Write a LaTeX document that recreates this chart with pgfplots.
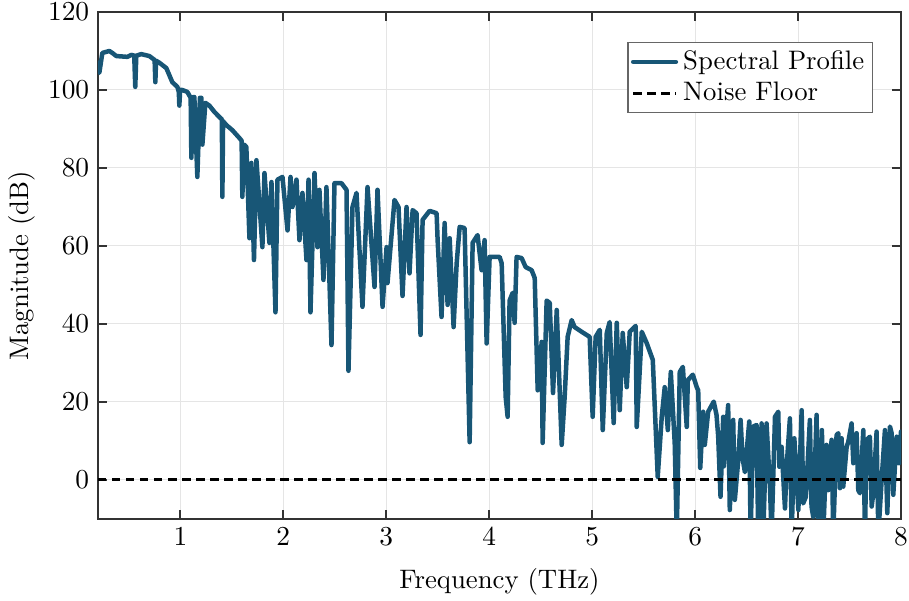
\documentclass[border=0pt]{standalone}
\usepackage{pgfplots}
\pgfplotsset{compat=1.18}
\definecolor{specblue}{RGB}{24,86,118}
\newcommand{\fs}{\fontsize{10.7}{13}\selectfont}
\begin{document}
\begin{tikzpicture}
\begin{axis}[
  scale only axis, width=321.2pt, height=202.8pt,
  xmin=0.2, xmax=8, ymin=-10, ymax=120,
  xtick={1,2,3,4,5,6,7,8}, ytick={0,20,40,60,80,100,120},
  grid=major, major grid style={black!10, line width=0.4pt},
  axis line style={black!80, line width=0.8pt},
  tick style={black!80, line width=0.8pt},
  tick align=inside, major tick length=3.5pt,
  xlabel={Frequency (THz)}, ylabel={Magnitude (dB)},
  xlabel style={yshift=-2.5pt}, ylabel style={yshift=-1.6pt},
  label style={font=\fs}, tick label style={font=\fs},
  legend style={at={(0.965,0.941)}, anchor=north east, draw=black!60, line width=0.5pt, font=\fs, inner sep=1.2pt, row sep=-0.5pt},
  legend cell align=left,
  legend image code/.code={\draw[#1] (0cm,0cm) -- (0.6cm,0cm);},
]
\addplot[specblue, line width=1.8pt, line join=round, line cap=round] coordinates {
(0.204,107) (0.213,104.4) (0.242,109.5) (0.310,110) (0.339,109.5) (0.378,108.7) (0.485,108.5) (0.524,109) (0.552,108.8) (0.562,100.8) (0.572,108.8) (0.621,109.2) (0.699,108.7) (0.750,107.7) (0.757,102) (0.764,107.5) (0.796,107) (0.864,105.6) (0.922,102) (0.971,100.8) (0.985,99.5) (0.990,96) (0.998,100) (1.019,100) (1.068,99.5) (1.100,98) (1.107,82.6) (1.125,98.2) (1.136,98.2) (1.165,77.7) (1.190,98) (1.204,98) (1.214,86) (1.243,96.7) (1.282,96) (1.330,94.4) (1.389,92.8) (1.403,92.5) (1.408,72.6) (1.415,92) (1.447,91) (1.505,89.7) (1.573,87.7) (1.595,87) (1.602,72.6) (1.620,86) (1.641,85.4) (1.671,62) (1.690,81.3) (1.715,56.4) (1.739,82) (1.797,59.7) (1.817,78.7) (1.865,60.8) (1.885,76.4) (1.924,43) (1.943,77) (1.992,77.7) (2.041,64) (2.070,77.7) (2.089,70) (2.128,77) (2.157,61.5) (2.186,73.6) (2.225,56.4) (2.245,77) (2.264,43) (2.303,78.7) (2.332,59.7) (2.351,74.4) (2.390,51.3) (2.419,75.1) (2.468,34.6) (2.497,76.1) (2.565,76.1) (2.614,74.4) (2.633,28) (2.672,70) (2.711,73.6) (2.769,44.4) (2.818,75.1) (2.886,49.5) (2.915,74.4) (2.964,44.4) (3.003,59.7) (3.012,50.5) (3.080,71.8) (3.119,70) (3.158,47.2) (3.197,70) (3.226,53) (3.256,69.2) (3.294,68.4) (3.333,37.2) (3.353,66.7) (3.421,69) (3.489,68.4) (3.499,61.5) (3.537,41.8) (3.567,65.9) (3.596,44.9) (3.616,62) (3.654,39.2) (3.684,55.6) (3.713,64.9) (3.761,64.6) (3.810,9.7) (3.839,60.8) (3.887,62.8) (3.926,53.8) (3.955,61.5) (3.975,35) (4.004,57.2) (4.033,57.2) (4.101,57.2) (4.121,55.6) (4.160,21.3) (4.179,16.2) (4.198,46) (4.228,48) (4.247,40.3) (4.266,57.2) (4.315,56.9) (4.354,54.6) (4.412,53.8) (4.442,51.8) (4.471,23) (4.510,35.4) (4.519,9.5) (4.558,46) (4.588,45.4) (4.620,22.3) (4.656,43.6) (4.704,9) (4.733,21.3) (4.762,36.7) (4.801,41) (4.830,39.2) (4.898,38) (4.976,36.7) (5.005,16.2) (5.034,36.7) (5.074,38.5) (5.103,12.8) (5.142,37.7) (5.170,40.5) (5.209,14.6) (5.239,40.3) (5.268,17.9) (5.297,37.7) (5.336,23.8) (5.365,38) (5.423,39.5) (5.433,13.6) (5.482,38) (5.530,35.1) (5.589,30.8) (5.637,0.8) (5.676,16.2) (5.705,23.8) (5.735,12.8) (5.764,27.7) (5.802,9.5) (5.822,-14) (5.851,27.7) (5.881,29) (5.919,13.6) (5.929,25.6) (5.978,27) (6.016,23.8) (6.030,23) (6.050,3.1) (6.078,17.5) (6.094,9.0) (6.127,17.5) (6.181,20.1) (6.208,16.7) (6.224,11.3) (6.247,-4.3) (6.273,16.2) (6.279,3.5) (6.321,19.2) (6.337,-7.7) (6.370,15.4) (6.386,-5.1) (6.419,5.1) (6.442,15.4) (6.461,5.6) (6.484,2) (6.526,15.0) (6.539,-14) (6.565,13.7) (6.597,14.1) (6.613,-14) (6.646,14.5) (6.662,-14) (6.694,14.5) (6.727,-1.7) (6.743,-14) (6.776,16.2) (6.808,17.5) (6.818,3.4) (6.840,8.5) (6.873,-7.3) (6.889,3.4) (6.921,15.8) (6.938,-14) (6.964,10.7) (7.003,-7.7) (7.035,17.9) (7.050,-6) (7.076,-4.3) (7.115,15.4) (7.131,-6.8) (7.147,-9.4) (7.180,16.7) (7.196,-14) (7.212,-8.5) (7.232,12.8) (7.245,-14) (7.277,9.0) (7.293,-2.6) (7.326,10.3) (7.342,-14) (7.374,11.5) (7.391,12.0) (7.407,-2.1) (7.423,10.7) (7.439,-1.7) (7.472,8.5) (7.488,9.8) (7.520,14.5) (7.537,4.3) (7.569,12.0) (7.585,-2.6) (7.601,-3.4) (7.634,12.8) (7.650,-14) (7.666,10.3) (7.698,11.1) (7.715,-6.8) (7.731,-3.4) (7.763,12.4) (7.780,-14) (7.812,0) (7.844,12.8) (7.867,-8.5) (7.893,13.7) (7.909,12.0) (7.925,-3.8) (7.958,11.1) (7.980,4.3) (8.0,12.4)
};
\addlegendentry{Spectral Profile}
\addplot[black, line width=1.2pt, dash pattern=on 3.4pt off 2.2pt] coordinates {(0.2,0) (8,0)};
\addlegendentry{Noise Floor}
\end{axis}
\pgfresetboundingbox
\useasboundingbox ([xshift=-39.2pt,yshift=-32.8pt]current axis.south west) rectangle ([xshift=3.2pt,yshift=4.8pt]current axis.north east);
\end{tikzpicture}
\end{document}
